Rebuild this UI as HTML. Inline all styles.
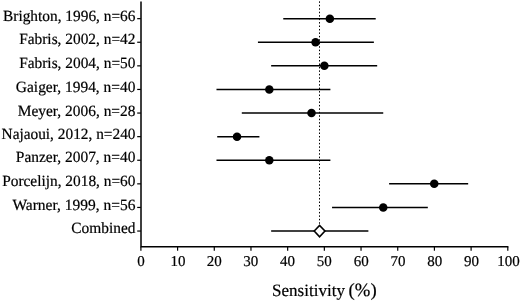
<!DOCTYPE html>
<html><head><meta charset="utf-8"><title>Sensitivity forest plot</title>
<style>
html,body{margin:0;padding:0;background:#fff}
svg{display:block}
text{font-family:"Liberation Serif","Times New Roman",serif;fill:#000;stroke:#000;stroke-width:0.2px;text-rendering:geometricPrecision}
.lb{font-size:15.6px;text-anchor:end}
.tk{font-size:15px;text-anchor:middle}
.ti{font-size:17.35px;text-anchor:middle}
</style></head><body>
<svg width="520" height="302" viewBox="0 0 520 302">
<rect width="520" height="302" fill="#fff"/>
<line x1="319.5" y1="1.35" x2="319.5" y2="223.9" stroke="#000" stroke-width="1" stroke-dasharray="1.5 1.9516"/>
<path d="M141 1.5V246.8H508.40" fill="none" stroke="#000" stroke-width="1.5"/>
<line x1="140.90" y1="246.8" x2="140.90" y2="250.7" stroke="#000" stroke-width="1.2"/>
<text class="tk" x="140.90" y="265.6">0</text>
<line x1="177.59" y1="246.8" x2="177.59" y2="250.7" stroke="#000" stroke-width="1.2"/>
<text class="tk" x="178.09" y="265.6">10</text>
<line x1="214.28" y1="246.8" x2="214.28" y2="250.7" stroke="#000" stroke-width="1.2"/>
<text class="tk" x="214.18" y="265.6">20</text>
<line x1="250.97" y1="246.8" x2="250.97" y2="250.7" stroke="#000" stroke-width="1.2"/>
<text class="tk" x="250.87" y="265.6">30</text>
<line x1="287.66" y1="246.8" x2="287.66" y2="250.7" stroke="#000" stroke-width="1.2"/>
<text class="tk" x="287.56" y="265.6">40</text>
<line x1="324.35" y1="246.8" x2="324.35" y2="250.7" stroke="#000" stroke-width="1.2"/>
<text class="tk" x="324.35" y="265.6">50</text>
<line x1="361.04" y1="246.8" x2="361.04" y2="250.7" stroke="#000" stroke-width="1.2"/>
<text class="tk" x="361.14" y="265.6">60</text>
<line x1="397.73" y1="246.8" x2="397.73" y2="250.7" stroke="#000" stroke-width="1.2"/>
<text class="tk" x="398.03" y="265.6">70</text>
<line x1="434.42" y1="246.8" x2="434.42" y2="250.7" stroke="#000" stroke-width="1.2"/>
<text class="tk" x="434.72" y="265.6">80</text>
<line x1="471.11" y1="246.8" x2="471.11" y2="250.7" stroke="#000" stroke-width="1.2"/>
<text class="tk" x="471.41" y="265.6">90</text>
<line x1="507.80" y1="246.8" x2="507.80" y2="250.7" stroke="#000" stroke-width="1.2"/>
<text class="tk" x="508.50" y="265.6">100</text>
<line x1="137.2" y1="18.65" x2="140.9" y2="18.65" stroke="#000" stroke-width="1.2"/>
<text class="lb" x="135.5" y="20.85" textLength="132.46" lengthAdjust="spacingAndGlyphs">Brighton, 1996, n=66</text>
<line x1="283.26" y1="18.65" x2="375.72" y2="18.65" stroke="#000" stroke-width="1.5"/>
<circle cx="329.85" cy="18.65" r="4.25" fill="#000"/>
<line x1="137.2" y1="42.25" x2="140.9" y2="42.25" stroke="#000" stroke-width="1.2"/>
<text class="lb" x="135.5" y="44.45" textLength="116.32" lengthAdjust="spacingAndGlyphs">Fabris, 2002, n=42</text>
<line x1="257.94" y1="42.25" x2="373.88" y2="42.25" stroke="#000" stroke-width="1.5"/>
<circle cx="315.54" cy="42.25" r="4.25" fill="#000"/>
<line x1="137.2" y1="65.85" x2="140.9" y2="65.85" stroke="#000" stroke-width="1.2"/>
<text class="lb" x="135.5" y="68.45" textLength="116.32" lengthAdjust="spacingAndGlyphs">Fabris, 2004, n=50</text>
<line x1="271.15" y1="65.85" x2="377.18" y2="65.85" stroke="#000" stroke-width="1.5"/>
<circle cx="324.35" cy="65.85" r="4.25" fill="#000"/>
<line x1="137.2" y1="89.45" x2="140.9" y2="89.45" stroke="#000" stroke-width="1.2"/>
<text class="lb" x="135.5" y="92.05" textLength="119.67" lengthAdjust="spacingAndGlyphs">Gaiger, 1994, n=40</text>
<line x1="216.48" y1="89.45" x2="330.40" y2="89.45" stroke="#000" stroke-width="1.5"/>
<circle cx="269.31" cy="89.45" r="4.25" fill="#000"/>
<line x1="137.2" y1="113.05" x2="140.9" y2="113.05" stroke="#000" stroke-width="1.2"/>
<text class="lb" x="135.5" y="115.65" textLength="117.78" lengthAdjust="spacingAndGlyphs">Meyer, 2006, n=28</text>
<line x1="241.80" y1="113.05" x2="383.24" y2="113.05" stroke="#000" stroke-width="1.5"/>
<circle cx="311.51" cy="113.05" r="4.25" fill="#000"/>
<line x1="137.2" y1="136.65" x2="140.9" y2="136.65" stroke="#000" stroke-width="1.2"/>
<text class="lb" x="135.5" y="139.25" textLength="133.95" lengthAdjust="spacingAndGlyphs">Najaoui, 2012, n=240</text>
<line x1="217.22" y1="136.65" x2="259.41" y2="136.65" stroke="#000" stroke-width="1.5"/>
<circle cx="237.03" cy="136.65" r="4.25" fill="#000"/>
<line x1="137.2" y1="160.25" x2="140.9" y2="160.25" stroke="#000" stroke-width="1.2"/>
<text class="lb" x="135.5" y="162.45" textLength="119.67" lengthAdjust="spacingAndGlyphs">Panzer, 2007, n=40</text>
<line x1="216.48" y1="160.25" x2="330.40" y2="160.25" stroke="#000" stroke-width="1.5"/>
<circle cx="269.31" cy="160.25" r="4.25" fill="#000"/>
<line x1="137.2" y1="183.85" x2="140.9" y2="183.85" stroke="#000" stroke-width="1.2"/>
<text class="lb" x="135.5" y="186.40" textLength="133.30" lengthAdjust="spacingAndGlyphs">Porcelijn, 2018, n=60</text>
<line x1="389.11" y1="183.85" x2="468.17" y2="183.85" stroke="#000" stroke-width="1.5"/>
<circle cx="434.24" cy="183.85" r="4.25" fill="#000"/>
<line x1="137.2" y1="207.45" x2="140.9" y2="207.45" stroke="#000" stroke-width="1.2"/>
<text class="lb" x="135.5" y="209.55" textLength="123.08" lengthAdjust="spacingAndGlyphs">Warner, 1999, n=56</text>
<line x1="332.05" y1="207.45" x2="427.82" y2="207.45" stroke="#000" stroke-width="1.5"/>
<circle cx="383.24" cy="207.45" r="4.25" fill="#000"/>
<line x1="137.2" y1="231.05" x2="140.9" y2="231.05" stroke="#000" stroke-width="1.2"/>
<text class="lb" x="135.5" y="233.00" textLength="64.15" lengthAdjust="spacingAndGlyphs">Combined</text>
<line x1="271.15" y1="231.05" x2="368.38" y2="231.05" stroke="#000" stroke-width="1.5"/>
<path d="M314.23 231.05L319.58 225.35L324.93 231.05L319.58 236.75Z" fill="#fff" stroke="#000" stroke-width="1.6"/>
<text class="ti" x="271.96" y="296" style="text-anchor:start" textLength="73" lengthAdjust="spacingAndGlyphs">Sensitivity</text>
<text class="ti" x="376.64" y="296" style="text-anchor:end;font-size:18.7px">(%)</text>
</svg></body></html>
